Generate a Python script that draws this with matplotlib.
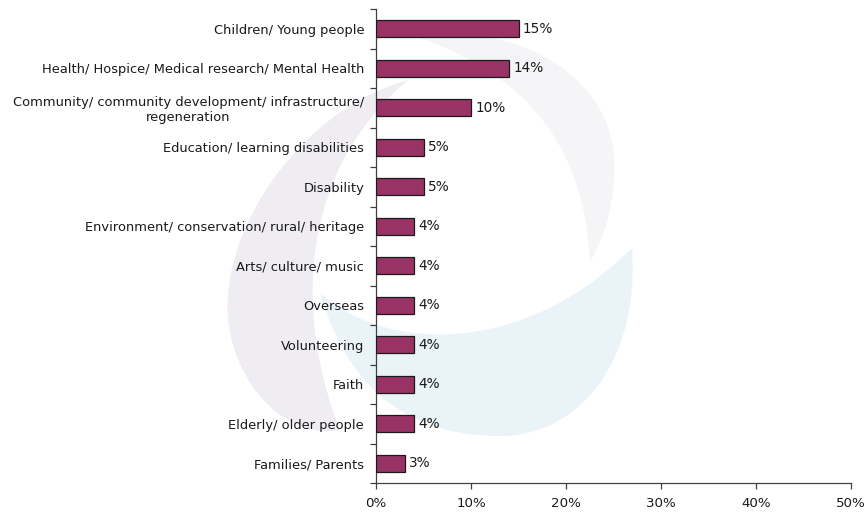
import matplotlib
matplotlib.use("Agg")
import matplotlib.pyplot as plt
from matplotlib.path import Path
from matplotlib.patches import PathPatch
from matplotlib.ticker import FuncFormatter, MultipleLocator

categories = [
    "Children/ Young people",
    "Health/ Hospice/ Medical research/ Mental Health",
    "Community/ community development/ infrastructure/\nregeneration",
    "Education/ learning disabilities",
    "Disability",
    "Environment/ conservation/ rural/ heritage",
    "Arts/ culture/ music",
    "Overseas",
    "Volunteering",
    "Faith",
    "Elderly/ older people",
    "Families/ Parents",
]
values = [15, 14, 10, 5, 5, 4, 4, 4, 4, 4, 4, 3]
x_ticks = [0, 10, 20, 30, 40, 50]

W, H = 868, 517
fig = plt.figure(figsize=(W / 100, H / 100), dpi=100)
fig.patch.set_facecolor("white")


def px(x, y):
    return (x / W, 1 - y / H)


def swoosh(points, color):
    verts = [px(*p) for p in points]
    codes = [Path.MOVETO] + [Path.CURVE4] * (len(verts) - 2) + [Path.CLOSEPOLY]
    patch = PathPatch(Path(verts, codes), facecolor=color, edgecolor="none",
                      transform=fig.transFigure, zorder=0)
    fig.patches.append(patch)


# faint logo in the background
swoosh([(408, 80), (300, 110), (220, 230), (228, 320),
        (236, 390), (290, 440), (340, 430),
        (300, 330), (290, 180), (408, 80), (408, 80)], "#efecf2")
swoosh([(420, 38), (520, 20), (612, 80), (614, 160),
        (616, 210), (600, 245), (590, 262),
        (585, 160), (540, 80), (420, 38), (420, 38)], "#f5f4f6")
swoosh([(632, 248), (640, 360), (580, 436), (500, 436),
        (420, 436), (350, 400), (320, 292),
        (380, 350), (520, 360), (632, 248), (632, 248)], "#eaf3f8")

ax = fig.add_axes([376 / W, 1 - 483 / H, (851 - 376) / W, (483 - 9) / H])
ax.set_facecolor("none")
ax.set_zorder(1)

ypos = list(range(len(categories)))
ax.barh(ypos, values, height=0.42, color="#993366",
        edgecolor="#1a1a1a", linewidth=0.9, zorder=3)
for y, v in zip(ypos, values):
    ax.annotate(f"{v}%", (v, y), xytext=(3, 0), textcoords="offset points",
                va="center", ha="left", fontsize=9.8, color="#1a1a1a")

ax.set_xlim(0, 50)
ax.set_ylim(len(categories) - 0.5, -0.5)
ax.set_xticks(x_ticks)
ax.xaxis.set_major_formatter(FuncFormatter(lambda v, _: f"{v:.0f}%"))
ax.set_yticks(ypos)
ax.set_yticklabels(categories, fontsize=9.4, color="#1a1a1a", ha="right",
                   multialignment="center")
ax.yaxis.set_minor_locator(MultipleLocator(1, offset=0.5))
ax.tick_params(axis="y", which="major", length=0, pad=8.5)
ax.tick_params(axis="y", which="minor", length=4, width=0.9, color="#404040",
               direction="out")
ax.tick_params(axis="x", length=4, width=0.9, color="#404040", direction="out",
               labelsize=9.6, labelcolor="#1a1a1a", pad=6)

for side in ("top", "right"):
    ax.spines[side].set_visible(False)
for side in ("left", "bottom"):
    ax.spines[side].set_color("#404040")
    ax.spines[side].set_linewidth(0.9)

fig.savefig("out.png", dpi=100, facecolor="white")
